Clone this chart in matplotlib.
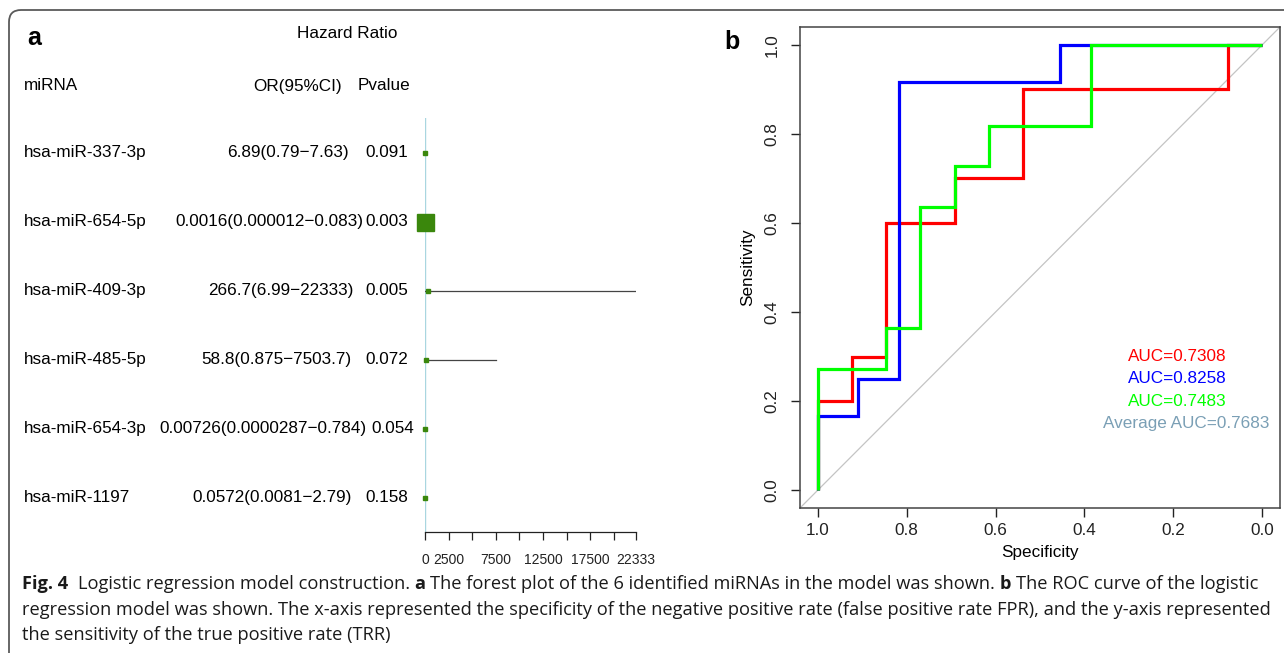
import matplotlib
matplotlib.use("Agg")
import matplotlib.pyplot as plt
import matplotlib.transforms as mtransforms
from matplotlib.patches import FancyBboxPatch

# ---------------- data ----------------
mirnas = ["hsa-miR-337-3p", "hsa-miR-654-5p", "hsa-miR-409-3p",
          "hsa-miR-485-5p", "hsa-miR-654-3p", "hsa-miR-1197"]
or_vals = [6.89, 0.0016, 266.7, 58.8, 0.00726, 0.0572]
ci_low = [0.79, 0.000012, 6.99, 0.875, 0.0000287, 0.0081]
ci_high = [7.63, 0.083, 22333, 7503.7, 0.784, 2.79]
or_labels = ["6.89(0.79\u22127.63)", "0.0016(0.000012\u22120.083)",
             "266.7(6.99\u221222333)", "58.8(0.875\u22127503.7)",
             "0.00726(0.0000287\u22120.784)", "0.0572(0.0081\u22122.79)"]
pvalues = ["0.091", "0.003", "0.005", "0.072", "0.054", "0.158"]
forest_ticks = [0, 2500, 5000, 7500, 10000, 12500, 15000, 17500, 20000, 22333]
forest_tick_labels = ["0", "2500", "", "7500", "", "12500", "", "17500", "", "22333"]

red_spec = [1.0, 1.0, 0.923, 0.923, 0.846, 0.846, 0.692, 0.692, 0.538, 0.538, 0.077, 0.077, 0.0]
red_sens = [0.0, 0.2, 0.2, 0.3, 0.3, 0.6, 0.6, 0.7, 0.7, 0.9, 0.9, 1.0, 1.0]
blue_spec = [1.0, 1.0, 0.909, 0.909, 0.818, 0.818, 0.455, 0.455, 0.0]
blue_sens = [0.0, 0.167, 0.167, 0.25, 0.25, 0.917, 0.917, 1.0, 1.0]
green_spec = [1.0, 1.0, 0.846, 0.846, 0.769, 0.769, 0.692, 0.692, 0.615, 0.615, 0.385, 0.385, 0.0]
green_sens = [0.0, 0.273, 0.273, 0.364, 0.364, 0.636, 0.636, 0.727, 0.727, 0.818, 0.818, 1.0, 1.0]
auc_labels = ["AUC=0.7308", "AUC=0.8258", "AUC=0.7483", "Average AUC=0.7683"]
roc_ticks = [0.0, 0.2, 0.4, 0.6, 0.8, 1.0]

# ---------------- styles / layout ----------------
W, H = 1284, 653
FONT = "Liberation Sans"
box_px = [4, 17, 4, 4, 4, 4]
box_color = "#3a870c"
roc_colors = ["#ff0000", "#0000ff", "#00ff00"]
avg_color = "#7a9fb5"
or_right_px = [349, 363, 354, 351, 367, 352]
p_right_px = [408, 408, 408, 408, 414, 408]
TXT = 12.3

plt.rcParams["font.family"] = [FONT, "DejaVu Sans"]
fig = plt.figure(figsize=(W / 100, H / 100), dpi=100)
fig.patch.set_facecolor("white")


def px_rect(left, top, right, bottom):
    return [left / W, 1 - bottom / H, (right - left) / W, (bottom - top) / H]


def fx(x):
    return x / W


def fy(y):
    return 1 - y / H


# outer rounded frame
frame = FancyBboxPatch((9, -30), 1310, 653 - 10 + 30,
                       boxstyle="round,pad=0,rounding_size=12",
                       transform=mtransforms.IdentityTransform(),
                       facecolor="none", edgecolor="#5a5a5a", linewidth=1.3)
fig.patches.append(frame)

# ---------------- panel a: forest plot ----------------
axf = fig.add_axes(px_rect(425, 118, 636, 532))
axf.set_xlim(0, 22333)
axf.set_ylim(5.5, -0.5)
axf.set_facecolor("none")
for s in ["top", "right", "left"]:
    axf.spines[s].set_visible(False)
axf.spines["bottom"].set_bounds(0, 22333)
axf.spines["bottom"].set_color("#222222")
axf.spines["bottom"].set_linewidth(0.9)
axf.set_yticks([])
axf.set_xticks(forest_ticks)
axf.set_xticklabels(forest_tick_labels)
axf.tick_params(axis="x", direction="out", length=6, width=0.9, pad=9,
                labelsize=10, colors="#222222")
axf.axvline(0, color="#a9d6e0", lw=1.0, zorder=1)
rows = list(range(len(mirnas)))
for i in rows:
    axf.plot([ci_low[i], ci_high[i]], [i, i], color="#444444", lw=0.9, zorder=2)
    axf.plot([or_vals[i]], [i], marker="s", ms=box_px[i] * 0.72, color=box_color,
             mec=box_color, zorder=3, clip_on=False)

tr = mtransforms.blended_transform_factory(fig.transFigure, axf.transData)
for i in rows:
    fig.text(fx(24), i, mirnas[i], transform=tr, ha="left", va="center", fontsize=TXT)
    fig.text(fx(or_right_px[i]), i, or_labels[i], transform=tr, ha="right",
             va="center", fontsize=TXT)
    fig.text(fx(p_right_px[i]), i, pvalues[i], transform=tr, ha="right",
             va="center", fontsize=TXT)

fig.text(fx(347), fy(34), "Hazard Ratio", ha="center", va="center", fontsize=TXT)
fig.text(fx(24), fy(86), "miRNA", ha="left", va="center", fontsize=TXT)
fig.text(fx(342), fy(86), "OR(95%CI)", ha="right", va="center", fontsize=TXT)
fig.text(fx(358), fy(86), "Pvalue", ha="left", va="center", fontsize=TXT)
fig.text(fx(27), fy(38), "a", ha="left", va="center", fontsize=18, fontweight="bold")

# ---------------- panel b: ROC ----------------
axr = fig.add_axes(px_rect(800, 27, 1280, 508))
axr.set_xlim(1.04, -0.04)
axr.set_ylim(-0.04, 1.04)
axr.axline((1.0, 0.0), (0.0, 1.0), color="#c4c4c4", lw=0.9, zorder=1)
for sp_, se_, c in [(red_spec, red_sens, roc_colors[0]),
                    (blue_spec, blue_sens, roc_colors[1]),
                    (green_spec, green_sens, roc_colors[2])]:
    axr.plot(sp_, se_, color=c, lw=2.3, solid_capstyle="butt",
             solid_joinstyle="miter", zorder=3)
for s in axr.spines.values():
    s.set_color("#444444")
    s.set_linewidth(1.1)
axr.set_xticks(roc_ticks)
axr.set_yticks(roc_ticks)
axr.set_xticklabels([f"{t:.1f}" for t in roc_ticks])
axr.set_yticklabels([f"{t:.1f}" for t in roc_ticks])
axr.tick_params(axis="both", direction="out", length=6.5, width=1.0,
                labelsize=TXT, colors="#222222")
axr.tick_params(axis="x", pad=4)
axr.tick_params(axis="y", pad=8)
for lab in axr.get_yticklabels():
    lab.set_rotation(90)
    lab.set_va("center")
axr.set_xlabel("Specificity", fontsize=TXT, labelpad=5)
axr.set_ylabel("Sensitivity", fontsize=TXT, labelpad=7)

auc_y = [0.30, 0.25, 0.20, 0.15]
auc_x = [0.19, 0.19, 0.19, 0.17]
for lab, c, yy, xx in zip(auc_labels, roc_colors + [avg_color], auc_y, auc_x):
    axr.text(xx, yy, lab, color=c, ha="center", va="center", fontsize=TXT)

fig.text(fx(724), fy(42), "b", ha="left", va="center", fontsize=18, fontweight="bold")

# ---------------- caption ----------------
CAP_FONT = ["Open Sans", "DejaVu Sans"]
renderer = fig.canvas.get_renderer()


def measure(s, size, weight):
    t = fig.text(0, 0, s, fontsize=size, fontweight=weight, family=CAP_FONT)
    w = t.get_window_extent(renderer).width
    t.remove()
    return w


line1 = [("Fig. 4", "bold", 2),
         ("Logistic regression model construction.", "normal", 1),
         ("a", "bold", 1),
         ("The forest plot of the 6 identified miRNAs in the model was shown.", "normal", 1),
         ("b", "bold", 1),
         ("The ROC curve of the logistic", "normal", 0)]
line2 = [("regression model was shown. The x-axis represented the specificity of the negative "
          "positive rate (false positive rate FPR), and the y-axis represented", "normal", 0)]
line3 = [("the sensitivity of the true positive rate (TRR)", "normal", 0)]


def line_width(runs, size):
    sp = measure("n n", size, "normal") - measure("nn", size, "normal")
    return sum(measure(s, size, w) + g * sp for s, w, g in runs)


base = 12.0
w1 = line_width(line1, base)
w2 = line_width(line2, base)
cap_size = min(base * (1272 - 22) / w1, base * (1266 - 22) / w2)
space_w = measure("n n", cap_size, "normal") - measure("nn", cap_size, "normal")


def draw_line(runs, x0, ypix):
    x = x0
    for s, w, g in runs:
        t = fig.text(x, H - ypix, s, transform=mtransforms.IdentityTransform(),
                     ha="left", va="baseline", fontsize=cap_size, fontweight=w,
                     family=CAP_FONT, color="#1a1a1a")
        x += t.get_window_extent(renderer).width + g * space_w


draw_line(line1, 22, 589)
draw_line(line2, 22, 615)
draw_line(line3, 22, 640)

fig.savefig("out.png", dpi=100, facecolor="white")
